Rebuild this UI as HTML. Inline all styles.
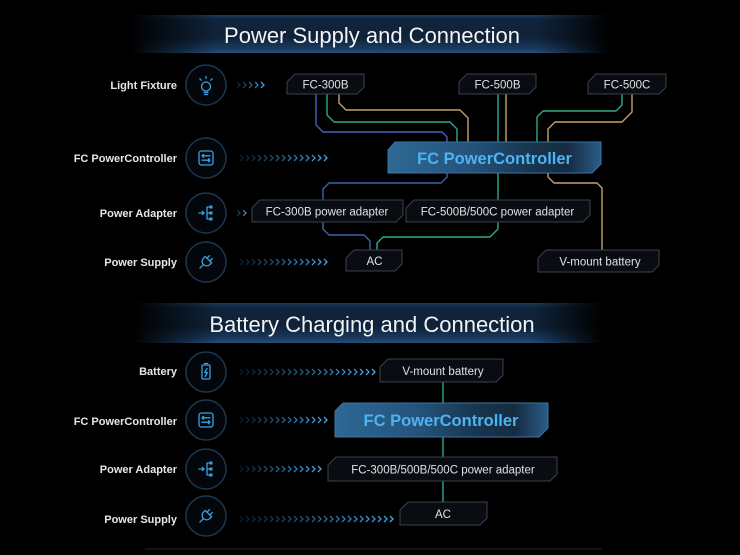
<!DOCTYPE html>
<html>
<head>
<meta charset="utf-8">
<style>
html,body{margin:0;padding:0;background:#000;}
body{width:740px;height:555px;overflow:hidden;}
svg{display:block;}
text{font-family:"Liberation Sans",sans-serif;}
</style>
</head>
<body>
<svg width="740" height="555" viewBox="0 0 740 555" xmlns="http://www.w3.org/2000/svg">
<defs>
  <linearGradient id="bannerV" x1="0" y1="0" x2="0" y2="1">
    <stop offset="0" stop-color="#1b3b5c"/>
    <stop offset="0.12" stop-color="#10243b"/>
    <stop offset="0.6" stop-color="#0f2239"/>
    <stop offset="0.9" stop-color="#1a3c60"/>
    <stop offset="1" stop-color="#24507c"/>
  </linearGradient>
  <linearGradient id="bannerH" x1="0" y1="0" x2="1" y2="0">
    <stop offset="0" stop-color="#fff" stop-opacity="0"/>
    <stop offset="0.18" stop-color="#fff" stop-opacity="1"/>
    <stop offset="0.85" stop-color="#fff" stop-opacity="1"/>
    <stop offset="1" stop-color="#fff" stop-opacity="0"/>
  </linearGradient>
  <mask id="bmask" maskContentUnits="objectBoundingBox" x="0" y="0" width="1" height="1">
    <rect width="1" height="1" fill="url(#bannerH)"/>
  </mask>
  <pattern id="chev" width="6" height="8" patternUnits="userSpaceOnUse">
    <path d="M1 1l3 3-3 3" fill="none" stroke="#43acef" stroke-width="1.3"/>
  </pattern>
  <linearGradient id="fg" x1="0" y1="0" x2="1" y2="0">
    <stop offset="0" stop-color="#fff" stop-opacity="0.15"/>
    <stop offset="1" stop-color="#fff" stop-opacity="1"/>
  </linearGradient>
  <mask id="fade" maskContentUnits="objectBoundingBox" x="0" y="0" width="1" height="1">
    <rect width="1" height="1" fill="url(#fg)"/>
  </mask>
  <linearGradient id="bigg" x1="0" y1="0" x2="1" y2="0">
    <stop offset="0" stop-color="#2e6894"/>
    <stop offset="0.4" stop-color="#24527a"/>
    <stop offset="0.66" stop-color="#18364f"/>
    <stop offset="0.84" stop-color="#152b40"/>
    <stop offset="1" stop-color="#2a5d87"/>
  </linearGradient>
</defs>

<!-- ===== Banners ===== -->
<rect x="130" y="15" width="480" height="38" fill="url(#bannerV)" mask="url(#bmask)"/>
<text x="372" y="43" font-size="22" fill="#f2f4f6" text-anchor="middle">Power Supply and Connection</text>

<rect x="133" y="303" width="470" height="40" fill="url(#bannerV)" mask="url(#bmask)"/>
<text x="372" y="332" font-size="22" fill="#f2f4f6" text-anchor="middle">Battery Charging and Connection</text>

<!-- ===== Row labels ===== -->
<g font-size="11" font-weight="bold" fill="#e4e7ea" text-anchor="end">
  <text x="177" y="89">Light Fixture</text>
  <text x="177" y="162">FC PowerController</text>
  <text x="177" y="217">Power Adapter</text>
  <text x="177" y="266">Power Supply</text>
  <text x="177" y="375">Battery</text>
  <text x="177" y="425">FC PowerController</text>
  <text x="177" y="473">Power Adapter</text>
  <text x="177" y="523">Power Supply</text>
</g>

<!-- ===== Icon circles ===== -->
<g fill="#03070b" stroke="#1c374e" stroke-width="1.5">
  <circle cx="206" cy="85" r="20"/>
  <circle cx="206" cy="158" r="20"/>
  <circle cx="206" cy="213" r="20"/>
  <circle cx="206" cy="262" r="20"/>
  <circle cx="206" cy="372" r="20"/>
  <circle cx="206" cy="420" r="20"/>
  <circle cx="206" cy="469" r="20"/>
  <circle cx="206" cy="516" r="20"/>
</g>

<!-- ===== Icons ===== -->
<g fill="none" stroke="#3aa2e4" stroke-width="1.3" stroke-linecap="round" stroke-linejoin="round">
  <!-- bulb -->
  <circle cx="206" cy="86.5" r="4.5"/>
  <path d="M204 92.5h4M204.6 94.5h2.8"/>
  <path d="M206 76.5v2M199.8 78.8l1.4 1.4M212.2 78.8l-1.4 1.4"/>
  <!-- controller top -->
  <rect x="199" y="151" width="14" height="14" rx="2.5"/>
  <path d="M202 155.8h8M202 160.2h8M203.5 154.3l-1.5 1.5 1.5 1.5M208.5 158.7l1.5 1.5-1.5 1.5"/>
  <!-- adapter top -->
  <path d="M199 213h5M202.5 211.5l1.5 1.5-1.5 1.5M207 207v12M207 207h2.5M207 213h2.5M207 219h2.5"/>
  <!-- plug top -->
  <g transform="translate(207 261) rotate(45)">
    <path d="M-4.5 -2v2.5a4.5 4.5 0 0 0 9 0v-2.5z"/>
    <path d="M-2 -2v-3.5M2 -2v-3.5M0 5v5"/>
  </g>
  <!-- battery -->
  <rect x="202" y="365" width="8" height="14" rx="1"/>
  <path d="M204.5 363.5h3"/>
  <path d="M207 368.5l-2.2 4h2.6l-2.2 4"/>
  <!-- controller bottom -->
  <rect x="199" y="413" width="14" height="14" rx="2.5"/>
  <path d="M202 417.8h8M202 422.2h8M203.5 416.3l-1.5 1.5 1.5 1.5M208.5 420.7l1.5 1.5-1.5 1.5"/>
  <!-- adapter bottom -->
  <path d="M199 469h5M202.5 467.5l1.5 1.5-1.5 1.5M207 463v12M207 463h2.5M207 469h2.5M207 475h2.5"/>
  <!-- plug bottom -->
  <g transform="translate(207 515) rotate(45)">
    <path d="M-4.5 -2v2.5a4.5 4.5 0 0 0 9 0v-2.5z"/>
    <path d="M-2 -2v-3.5M2 -2v-3.5M0 5v5"/>
  </g>
</g>
<g fill="#3aa2e4">
  <rect x="209.5" y="205.5" width="3" height="3"/>
  <rect x="209.5" y="211.5" width="3" height="3"/>
  <rect x="209.5" y="217.5" width="3" height="3"/>
  <rect x="209.5" y="461.5" width="3" height="3"/>
  <rect x="209.5" y="467.5" width="3" height="3"/>
  <rect x="209.5" y="473.5" width="3" height="3"/>
</g>

<!-- ===== Chevron rows ===== -->
<rect x="0" y="0" width="30" height="8" fill="url(#chev)" transform="translate(236 81)" mask="url(#fade)"/>
<rect x="0" y="0" width="90" height="8" fill="url(#chev)" transform="translate(239 154)" mask="url(#fade)"/>
<rect x="0" y="0" width="12" height="8" fill="url(#chev)" transform="translate(236 209)" mask="url(#fade)"/>
<rect x="0" y="0" width="90" height="8" fill="url(#chev)" transform="translate(239 258)" mask="url(#fade)"/>
<rect x="0" y="0" width="138" height="8" fill="url(#chev)" transform="translate(239 368)" mask="url(#fade)"/>
<rect x="0" y="0" width="90" height="8" fill="url(#chev)" transform="translate(239 416)" mask="url(#fade)"/>
<rect x="0" y="0" width="84" height="8" fill="url(#chev)" transform="translate(239 465)" mask="url(#fade)"/>
<rect x="0" y="0" width="156" height="8" fill="url(#chev)" transform="translate(239 515)" mask="url(#fade)"/>

<!-- ===== Connectors (top) ===== -->
<g fill="none" stroke-width="1.4" stroke-linejoin="round">
  <path stroke="#4d5cbc" d="M316 94V125L323 132H442L447 137V142"/>
  <path stroke="#2ea88e" d="M327 94V115L334 122H450L457 129V142"/>
  <path stroke="#c6a26b" d="M339 94V103L346 110H460L468 118V142"/>
  <path stroke="#2ea88e" d="M498 94V142M498 173V200M498 222V229L490 237H383L377 243V250"/>
  <path stroke="#c6a26b" d="M506 94V142"/>
  <path stroke="#2ea88e" d="M622 94V105L616 111H543L537 117V142"/>
  <path stroke="#c6a26b" d="M632 94V112L622 122H555L548 129V142"/>
  <path stroke="#c6a26b" d="M548 173V177L554 183H597L602 188V250"/>
  <path stroke="#3e63ad" d="M447 173V177L441 183H329L323 189V200M323 222V229L329 235H364L370 241V250"/>
  <!-- bottom -->
  <path stroke="#2ea88e" d="M443 382V403M443 437V457M443 481V502"/>
</g>

<!-- ===== Boxes (top) ===== -->
<g fill="#090d11" stroke="#3a424b" stroke-width="1">
  <polygon points="287,82 295,74 364,74 364,87 357,94 287,94"/>
  <polygon points="459,82 467,74 536,74 536,87 529,94 459,94"/>
  <polygon points="588,82 596,74 666,74 666,87 659,94 588,94"/>
  <polygon points="252,208 260,200 403,200 403,215 396,222 252,222"/>
  <polygon points="406,208 414,200 590,200 590,215 583,222 406,222"/>
  <polygon points="346,258 354,250 402,250 402,264 395,271 346,271"/>
  <polygon points="538,258 546,250 659,250 659,265 652,272 538,272"/>
  <!-- bottom -->
  <polygon points="380,367 388,359 503,359 503,375 496,382 380,382"/>
  <polygon points="328,465 336,457 557,457 557,474 550,481 328,481"/>
  <polygon points="400,510 408,502 487,502 487,518 480,525 400,525"/>
</g>
<g fill="url(#bigg)" stroke="#3a74a2" stroke-width="1">
  <polygon points="388,150 395,142 601,142 601,164 592,173 388,173"/>
  <polygon points="335,411 343,403 548,403 548,428 539,437 335,437"/>
</g>

<!-- ===== Box labels ===== -->
<g font-size="11.5" fill="#dde2e7" text-anchor="middle">
  <text x="325.5" y="88.5">FC-300B</text>
  <text x="497.5" y="88.5">FC-500B</text>
  <text x="627" y="88.5">FC-500C</text>
  <text x="327" y="215.5">FC-300B power adapter</text>
  <text x="497.5" y="215.5">FC-500B/500C power adapter</text>
  <text x="374.5" y="265">AC</text>
  <text x="600" y="265.5">V-mount battery</text>
  <text x="443" y="375">V-mount battery</text>
  <text x="443" y="473.5">FC-300B/500B/500C power adapter</text>
  <text x="443" y="518">AC</text>
</g>
<g font-size="16.5" font-weight="bold" fill="#4db3f3" text-anchor="middle">
  <text x="494.5" y="164">FC PowerController</text>
  <text x="441" y="426">FC PowerController</text>
</g>

<!-- bottom rule -->
<line x1="145" y1="549" x2="602" y2="549" stroke="#23282e" stroke-width="1"/>
</svg>
</body>
</html>
